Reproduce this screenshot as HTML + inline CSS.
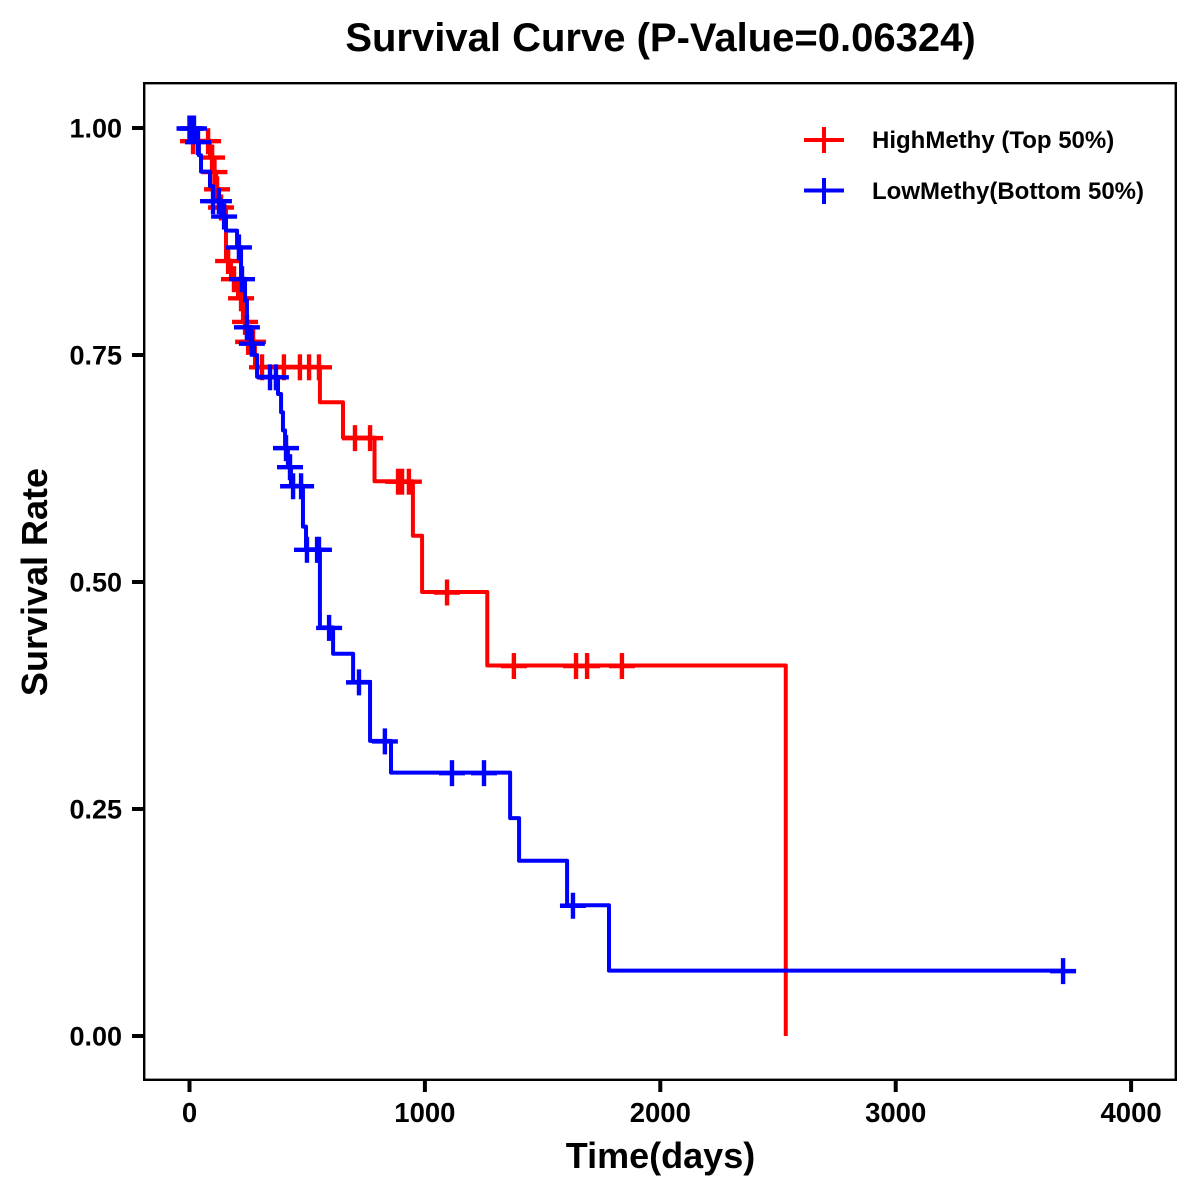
<!DOCTYPE html>
<html lang="en">
<head>
<meta charset="utf-8">
<title>Survival Curve</title>
<style>
html,body{margin:0;padding:0;background:#fff;width:1200px;height:1200px;overflow:hidden}
svg{display:block}
text{font-family:"Liberation Sans",Arial,sans-serif;font-weight:bold;fill:#000}
</style>
</head>
<body>
<svg id="chart" width="1200" height="1200" viewBox="0 0 1200 1200" xmlns="http://www.w3.org/2000/svg">
  <rect x="0" y="0" width="1200" height="1200" fill="#fff"/>
  <text x="660.5" y="51" font-size="40" text-anchor="middle">Survival Curve (P-Value=0.06324)</text>
  <text x="660.5" y="1168" font-size="36" text-anchor="middle">Time(days)</text>
  <text transform="translate(47,582) rotate(-90)" font-size="36" text-anchor="middle">Survival Rate</text>
  <g id="ticks"></g>
  <g id="series"></g>
  <rect x="144.2" y="83.2" width="1031.6" height="996.6" fill="none" stroke="#000" stroke-width="2.4"/>
  <g>
    <g>
      <line x1="804" x2="844" y1="140" y2="140" stroke="#f00" stroke-width="4"/>
      <line x1="824" x2="824" y1="127" y2="153" stroke="#f00" stroke-width="4"/>
      <text x="872" y="148" font-size="24">HighMethy (Top 50%)</text>
    </g>
    <g>
      <line x1="804" x2="844" y1="190.5" y2="190.5" stroke="#00f" stroke-width="4"/>
      <line x1="824" x2="824" y1="178" y2="204" stroke="#00f" stroke-width="4"/>
      <text x="872" y="199" font-size="24">LowMethy(Bottom 50%)</text>
    </g>
  </g>
</svg>
<script>
const xTicks = [0, 1000, 2000, 3000, 4000];
const xTickLabels = ["0", "1000", "2000", "3000", "4000"];
const yTicks = [0, 0.25, 0.5, 0.75, 1];
const yTickLabels = ["0.00", "0.25", "0.50", "0.75", "1.00"];

const highTimes = [0, 2, 87, 100, 113, 125, 155, 176, 206, 227, 244, 278, 554, 652, 786, 949, 988, 1265, 2533];
const highSurvival = [1, 0.986, 0.968, 0.952, 0.933, 0.913, 0.854, 0.834, 0.813, 0.787, 0.765, 0.737, 0.698, 0.659, 0.611, 0.551, 0.489, 0.408, 0];
const highCensored = [15, 79, 96, 106, 117, 134, 164, 189, 219, 236, 249, 270, 308, 401, 469, 508, 550, 703, 767, 886, 903, 932, 1094, 1378, 1642, 1689, 1837];

const lowTimes = [0, 28, 40, 49, 87, 100, 138, 155, 202, 219, 236, 244, 261, 274, 287, 376, 389, 397, 406, 418, 431, 482, 495, 554, 610, 695, 767, 856, 1362, 1400, 1604, 1782];
const lowSurvival = [1, 0.985, 0.970, 0.952, 0.936, 0.920, 0.903, 0.887, 0.869, 0.834, 0.810, 0.781, 0.763, 0.750, 0.726, 0.707, 0.687, 0.667, 0.648, 0.627, 0.606, 0.561, 0.536, 0.450, 0.421, 0.390, 0.325, 0.290, 0.240, 0.193, 0.144, 0.072];
const lowCensored = [0, 6, 19, 36, 100, 125, 147, 210, 223, 244, 265, 342, 367, 410, 427, 440, 474, 499, 542, 550, 593, 720, 830, 1115, 1251, 1629, 3711];

const SVG_NS = "http://www.w3.org/2000/svg";
function xScale(t) { return 189.5 + t * 0.2354; }
function yScale(s) { return 1036 - s * 908; }

function stepValue(times, values, t) {
  let v = values[0];
  for (let i = 0; i < times.length; i++) {
    if (times[i] <= t) v = values[i];
  }
  return v;
}

function makeLine(x1, y1, x2, y2, color, width) {
  const el = document.createElementNS(SVG_NS, "line");
  el.setAttribute("x1", x1);
  el.setAttribute("y1", y1);
  el.setAttribute("x2", x2);
  el.setAttribute("y2", y2);
  el.setAttribute("stroke", color);
  el.setAttribute("stroke-width", width);
  return el;
}

const tickGroup = document.getElementById("ticks");
xTicks.forEach(function (v, i) {
  const px = xScale(v);
  const tick = makeLine(px, 1080, px, 1092, "#000", 4);
  
  
  tickGroup.appendChild(tick);
  const label = document.createElementNS(SVG_NS, "text");
  
  
  label.setAttribute("x", px);
  label.setAttribute("y", 1122);
  label.setAttribute("font-size", "27.5");
  label.setAttribute("text-anchor", "middle");
  label.textContent = xTickLabels[i];
  tickGroup.appendChild(label);
});
yTicks.forEach(function (v, i) {
  const py = yScale(v);
  const tick = makeLine(132, py, 144, py, "#000", 4);
  
  
  tickGroup.appendChild(tick);
  const label = document.createElementNS(SVG_NS, "text");
  
  
  label.setAttribute("x", 122);
  label.setAttribute("y", py + 9.7);
  label.setAttribute("font-size", "27");
  label.setAttribute("text-anchor", "end");
  label.textContent = yTickLabels[i];
  tickGroup.appendChild(label);
});

const seriesGroup = document.getElementById("series");

function drawSeries(times, values, censored, color, curveName, markName) {
  let d = "M" + xScale(times[0]) + " " + yScale(values[0]);
  for (let i = 1; i < times.length; i++) {
    d += "H" + xScale(times[i]) + "V" + yScale(values[i]);
  }
  const lastCensored = Math.max.apply(null, censored);
  if (lastCensored > times[times.length - 1]) {
    d += "H" + xScale(lastCensored);
  }
  const path = document.createElementNS(SVG_NS, "path");
  
  
  path.setAttribute("d", d);
  path.setAttribute("fill", "none");
  path.setAttribute("stroke", color);
  path.setAttribute("stroke-width", 4);
  path.setAttribute("stroke-linejoin", "round");
  seriesGroup.appendChild(path);

  censored.forEach(function (t) {
    const px = xScale(t);
    const py = yScale(stepValue(times, values, t)) + 0.5;
    const h = makeLine(px - 13, py, px + 13, py, color, 4.4);
    
    
    seriesGroup.appendChild(h);
    const v = makeLine(px, py - 13, px, py + 13, color, 4.4);
    
    
    seriesGroup.appendChild(v);
  });
}

drawSeries(highTimes, highSurvival, highCensored, "#ff0000", "high-methy-curve", "high-censor-mark");
drawSeries(lowTimes, lowSurvival, lowCensored, "#0000ff", "low-methy-curve", "low-censor-mark");
</script>
</body>
</html>
